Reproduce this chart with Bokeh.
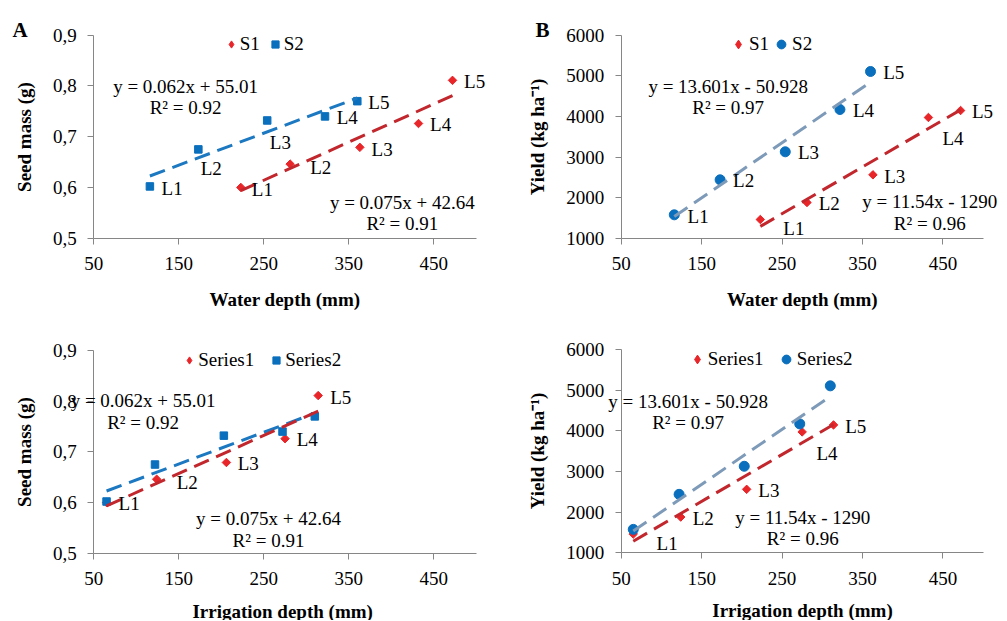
import numpy as np
from bokeh.plotting import figure
from bokeh.layouts import gridplot
from bokeh.models import (FixedTicker, CustomJSTickFormatter, Label, Legend,
                          LegendItem, ColumnDataSource, Range1d)
from bokeh.embed import file_html
from bokeh.resources import INLINE
from bokeh.core.properties import value

# ---------------- data ----------------
point_labels = ["L1", "L2", "L3", "L4", "L5"]
water_s1 = [223, 281, 363, 432, 472]
water_s2 = [116, 173, 254, 322, 360]
irrig_s1 = [65, 124, 206, 275, 314]
irrig_s2 = [65, 122, 203, 272, 310]
seed_s1 = [0.600, 0.646, 0.679, 0.726, 0.811]
seed_s2 = [0.602, 0.675, 0.732, 0.740, 0.770]
yield_s1 = [1460, 1879, 2561, 3973, 4145]
yield_s2 = [1576, 2438, 3128, 4170, 5106]
x_ticks = [50, 150, 250, 350, 450]
seed_ticks = [0.5, 0.6, 0.7, 0.8, 0.9]
yield_ticks = [1000, 2000, 3000, 4000, 5000, 6000]
eq_seed_s1 = ["y = 0.075x + 42.64", "R² = 0.91"]
eq_seed_s2 = ["y = 0.062x + 55.01", "R² = 0.92"]
eq_yield_s1 = ["y = 11.54x - 1290", "R² = 0.96"]
eq_yield_s2 = ["y = 13.601x - 50.928", "R² = 0.97"]

# ---------------- style ----------------
FONT = "Liberation Serif"
FS = "19px"
RED = "#E8262A"
BLUE = "#0A6FBD"
RED_LINE = "#C1272D"
BLUE_LINE = "#1C78C0"
GREY_LINE = "#7E9AB9"
AXIS = "#868686"
X_LO, X_HI = 50, 500


def make_fig(W, H, x0_px, x_ppu, y_top_px, y_bot_px, v_bot, v_top):
    """Figure whose frame fills the whole canvas; axes are pinned at (50, v_bot)."""
    xs = X_LO - x0_px / x_ppu
    xe = xs + W / x_ppu
    y_ppu = (y_bot_px - y_top_px) / (v_top - v_bot)
    ye = v_top + y_top_px / y_ppu
    ys = v_bot - (H - y_bot_px) / y_ppu
    p = figure(width=W, height=H, x_range=Range1d(xs, xe), y_range=Range1d(ys, ye),
               output_backend="svg", toolbar_location=None,
               min_border_left=0, min_border_right=0, min_border_top=0,
               min_border_bottom=0)
    p.xaxis.fixed_location = v_bot
    p.yaxis.fixed_location = X_LO
    p.xaxis.bounds = (X_LO, X_HI)
    p.yaxis.bounds = (v_bot, v_top)
    return p


def style_axes(p, xlabel, ylabel, yticks, yfmt, ylab_standoff, xlab_standoff):
    p.xaxis.ticker = FixedTicker(ticks=x_ticks)
    p.yaxis.ticker = FixedTicker(ticks=yticks)
    p.yaxis.formatter = CustomJSTickFormatter(code=yfmt)
    for ax in (p.xaxis[0], p.yaxis[0]):
        ax.axis_line_color = AXIS
        ax.axis_line_width = 1
        ax.major_tick_line_color = AXIS
        ax.major_tick_out = 6
        ax.major_tick_in = 0
        ax.minor_tick_line_color = None
        ax.major_label_text_font = FONT
        ax.major_label_text_font_size = FS
        ax.major_label_text_color = "black"
        ax.axis_label_text_font = FONT
        ax.axis_label_text_font_size = FS
        ax.axis_label_text_font_style = "bold"
        ax.axis_label_text_color = "black"
    p.xaxis.axis_label = xlabel
    p.yaxis.axis_label = ylabel
    p.xaxis.major_label_standoff = 13
    p.yaxis.major_label_standoff = 11
    p.xaxis.axis_label_standoff = xlab_standoff
    p.yaxis.axis_label_standoff = ylab_standoff
    p.xgrid.visible = False
    p.ygrid.visible = False
    p.outline_line_color = None


def trend(p, x, y, color):
    k, b = np.polyfit(x, y, 1)
    xs = [min(x), max(x)]
    p.line(xs, [k * v + b for v in xs], line_color=color, line_width=3,
           line_dash="16 8", line_cap="butt")


def labels(p, x, y, dx, dy):
    src = ColumnDataSource(dict(x=x, y=y, t=point_labels, dx=dx, dy=dy))
    p.text(x="x", y="y", text="t", x_offset="dx", y_offset="dy", source=src,
           text_font=value(FONT), text_font_size=FS, text_color="black",
           text_align="left", text_baseline="middle")


def eq(p, lines, x, y1, y2):
    for t, yy in zip(lines, (y1, y2)):
        p.add_layout(Label(x=x, y=yy, text=t, text_font=FONT, text_font_size=FS,
                           text_color="black", text_align="center",
                           text_baseline="middle"))


def letter(p, t, x, y):
    p.add_layout(Label(x=x, y=y, x_units="screen", y_units="screen", text=t,
                       text_font=FONT, text_font_size="21px", text_font_style="bold",
                       text_color="black", text_baseline="alphabetic"))


def legend(p, items, loc, spacing, gw):
    lg = Legend(items=items, location=loc, orientation="horizontal",
                glyph_width=gw, glyph_height=24, label_height=24, label_standoff=0,
                spacing=int(round(spacing)), padding=0, margin=0,
                border_line_color=None,
                background_fill_alpha=0, label_text_font=FONT,
                label_text_font_size=FS, label_text_color="black")
    p.add_layout(lg)


def s1_markers(p, x, y):
    # diamond glyph (used for the legend symbol), covered by the rotated square
    r = p.scatter(x, y, marker="diamond", size=5, fill_color=RED, line_color=RED)
    p.scatter(x, y, marker="square", angle=np.pi / 4, size=6,
              fill_color=RED, line_color=RED)
    return r


seed_fmt = "return tick.toFixed(1).replace('.', ',');"
yield_fmt = "return tick.toFixed(0);"

H = 310

# ---------------- Panel A ----------------
pA = make_fig(500, H, 93.3, 0.85, 34.7, 237.7, 0.5, 0.9)
style_axes(pA, "Water depth (mm)", "Seed mass (g)", seed_ticks, seed_fmt, 15, 15)
rA1 = s1_markers(pA, water_s1, seed_s1)
rA2 = pA.scatter(water_s2, seed_s2, marker="square", size=7.5,
                 fill_color=BLUE, line_color=BLUE)
trend(pA, water_s2, seed_s2, BLUE_LINE)
trend(pA, water_s1, seed_s1, RED_LINE)
labels(pA, water_s2, seed_s2, [11.7, 2.3, 2.6, 11.7, 11], [2, 19, 21.7, 0.7, 1.6])
labels(pA, water_s1, seed_s1, [11, 20, 11.7, 11.6, 11.6], [1.6, 3, 2, 1, 1.3])
eq(pA, eq_seed_s2, 158, 0.7995, 0.758)
eq(pA, eq_seed_s1, 413, 0.571, 0.5296)
legend(pA, [LegendItem(label="S1", renderers=[rA1]),
            LegendItem(label="S2", renderers=[rA2])], (221.7, 253.7), 6, 18)
letter(pA, "A", 12, H - 29.3)

# ---------------- Panel B ----------------
pB = make_fig(506, H, 120.7, 321.7 / 400, 34.7, 237.7, 1000, 6000)
style_axes(pB, "Water depth (mm)", "Yield (kg ha⁻¹)", yield_ticks, yield_fmt, 16, 15)
rB1 = s1_markers(pB, water_s1, yield_s1)
rB2 = pB.scatter(water_s2, yield_s2, marker="circle", size=10,
                 fill_color=BLUE, line_color=BLUE)
trend(pB, water_s2, yield_s2, GREY_LINE)
trend(pB, water_s1, yield_s1, RED_LINE)
labels(pB, water_s2, yield_s2, [13.3, 13, 12.7, 13, 12.7], [1.7, 0.7, 0.7, 1, 1])
labels(pB, water_s1, yield_s1, [23, 11.7, 11.3, 14, 11.3], [8.7, 0.7, 1.4, 21.3, 1])
eq(pB, eq_yield_s2, 183, 4736, 4212)
eq(pB, eq_yield_s1, 433.7, 1904, 1369)
legend(pB, [LegendItem(label="S1", renderers=[rB1]),
            LegendItem(label="S2", renderers=[rB2])], (227, 253.7), 1, 22)
letter(pB, "B", 35, H - 29.3)

# ---------------- Panel C ----------------
pC = make_fig(500, H, 93.3, 0.85, 40, 242.7, 0.5, 0.9)
style_axes(pC, "Irrigation  depth (mm)", "Seed mass (g)", seed_ticks, seed_fmt, 15, 12)
rC1 = s1_markers(pC, irrig_s1, seed_s1)
rC2 = pC.scatter(irrig_s2, seed_s2, marker="square", size=7.5,
                 fill_color=BLUE, line_color=BLUE)
trend(pC, irrig_s2, seed_s2, BLUE_LINE)
trend(pC, irrig_s1, seed_s1, RED_LINE)
labels(pC, irrig_s1, seed_s1, [12, 20, 11.3, 11.7, 12], [1.3, 3.7, 1.3, 1.3, 1.7])
eq(pC, eq_seed_s2, 108, 0.801, 0.757)
eq(pC, eq_seed_s1, 255.5, 0.568, 0.526)
legend(pC, [LegendItem(label="Series1", renderers=[rC1]),
            LegendItem(label="Series2", renderers=[rC2])], (180.3, 248), 13, 18)

# ---------------- Panel D ----------------
pD = make_fig(506, H, 120.7, 321.7 / 400, 39, 242.3, 1000, 6000)
style_axes(pD, "Irrigation depth (mm)", "Yield (kg ha⁻¹)", yield_ticks, yield_fmt, 16, 12)
rD1 = s1_markers(pD, irrig_s1, yield_s1)
rD2 = pD.scatter(irrig_s2, yield_s2, marker="circle", size=10,
                 fill_color=BLUE, line_color=BLUE)
trend(pD, irrig_s2, yield_s2, GREY_LINE)
trend(pD, irrig_s1, yield_s1, RED_LINE)
labels(pD, irrig_s1, yield_s1, [23.3, 12, 11.7, 14.3, 11.7], [9, 1, 1, 21.7, 1.4])
eq(pD, eq_yield_s2, 133.2, 4720, 4197)
eq(pD, eq_yield_s1, 275.7, 1875, 1344)
legend(pD, [LegendItem(label="Series1", renderers=[rD1]),
            LegendItem(label="Series2", renderers=[rD2])], (185.7, 248.7), 11, 22)

grid = gridplot([[pA, pB], [pC, pD]], toolbar_location=None)
open("out.html", "w").write(file_html(grid, INLINE))
